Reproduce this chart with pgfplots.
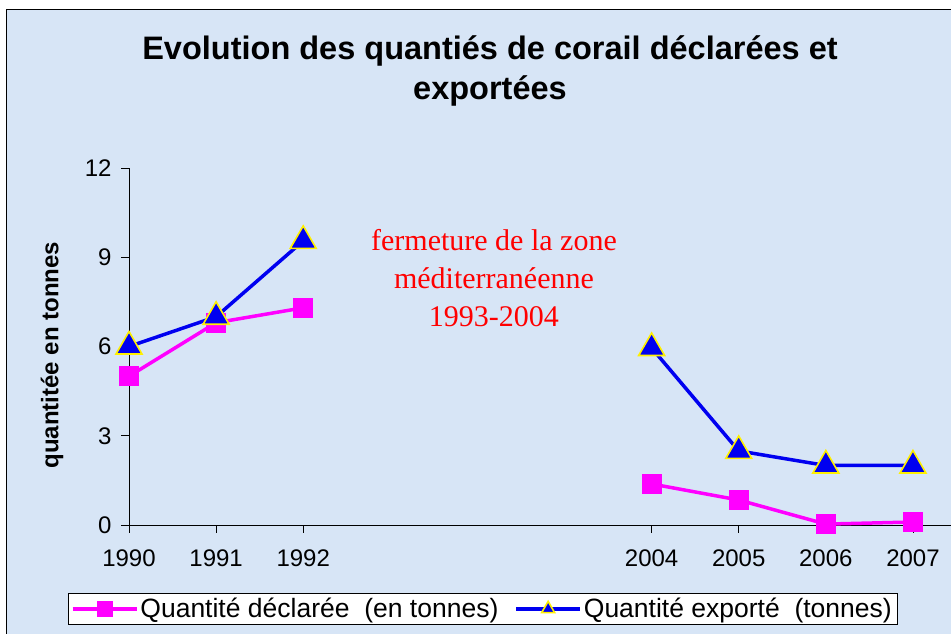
\documentclass[border=0pt]{standalone}
\usepackage{pgfplots}
\pgfplotsset{compat=1.18}
\usepackage{fontspec}
\setmainfont{Liberation Sans}
\newfontfamily\serifred{Liberation Serif}
\definecolor{bgblue}{RGB}{215,229,246}
\definecolor{mag}{RGB}{255,0,255}
\definecolor{myblue}{RGB}{0,0,240}
\definecolor{myyellow}{RGB}{255,240,0}
\begin{document}
\begin{tikzpicture}[x=1pt,y=1pt]
\useasboundingbox (0,0) rectangle (951,634);
\clip (0,0) rectangle (951,634);
\fill[white] (0,0) rectangle (951,634);
\filldraw[fill=bgblue, draw=black, line width=1pt] (6,-10) rectangle (960,624);
\node[font=\fontsize{32.5}{37}\selectfont\bfseries] at (490,583) {Evolution des quantiés de corail déclarées et};
\node[font=\fontsize{32.5}{37}\selectfont\bfseries] at (490,543) {exportées};
\node[font=\fontsize{24}{28}\selectfont\bfseries, rotate=90] at (52,279) {quantitée en tonnes};
\begin{axis}[
  at={(129pt,109pt)}, anchor=south west,
  scale only axis, width=827.5pt, height=357pt,
  xmin=0, xmax=9.5, ymin=0, ymax=12,
  axis lines=left, axis line style={-, black, line width=0.8pt},
  xtick={0,1,2,6,7,8,9},
  xticklabels={1990,1991,1992,2004,2005,2006,2007},
  ytick={0,3,6,9,12},
  tick align=outside, major tick length=8pt,
  tick style={black, line width=0.8pt},
  /pgf/number format/assume math mode=true,
  ticklabel style={font=\fontsize{24}{28}\selectfont},
  xticklabel style={yshift=-13pt},
  yticklabel style={xshift=-6pt},
  clip=false,
  legend columns=2,
  legend style={at={(0.427,-0.235)}, anchor=center, draw=black, fill=white,
    font=\fontsize{26.5}{30}\selectfont, inner sep=3pt,
    /tikz/every even column/.append style={column sep=14pt}},
  legend image code/.code={\draw[#1, mark repeat=2, mark phase=2, mark size=7.5pt] plot coordinates {(0pt,0pt) (32pt,0pt) (64pt,0pt)};},
]
\addplot[mag, line width=3.5pt, mark=square*, mark size=9.5pt, mark options={fill=mag, draw=mag, line width=0.5pt}]
  coordinates {(0,5.0) (1,6.8) (2,7.3)};
\addlegendentry{Quantité déclarée~~(en tonnes)}
\addplot[myblue, line width=3.5pt, mark=triangle*, mark size=15pt, mark options={fill=myblue, draw=myyellow, line width=1.6pt}]
  coordinates {(0,6.0) (1,7.0) (2,9.55)};
\addlegendentry{Quantité exporté~~(tonnes)}
\addplot[mag, line width=3.5pt, mark=square*, mark size=9.5pt, mark options={fill=mag, draw=mag, line width=0.5pt}, forget plot]
  coordinates {(6,1.38) (7,0.84) (8,0.03) (9,0.1)};
\addplot[myblue, line width=3.5pt, mark=triangle*, mark size=15pt, mark options={fill=myblue, draw=myyellow, line width=1.6pt}, forget plot]
  coordinates {(6,5.95) (7,2.49) (8,2.0) (9,2.0)};
\node[align=center, text=red, font=\serifred\fontsize{30}{38}\selectfont] at (axis cs:4.19,8.3) {fermeture de la zone\\méditerranéenne\\1993-2004};
\end{axis}
\end{tikzpicture}
\end{document}
